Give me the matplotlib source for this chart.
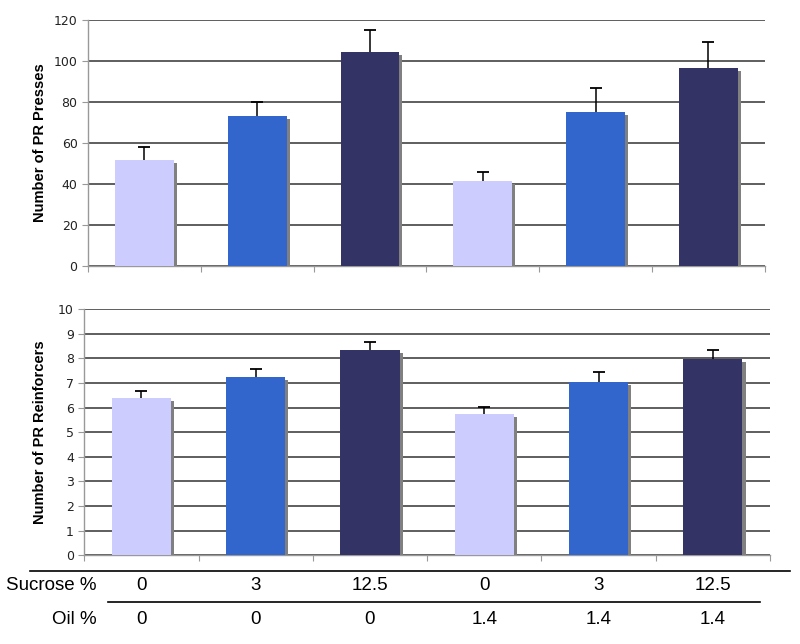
import matplotlib.pyplot as plt
import matplotlib.patheffects as pe
import matplotlib.transforms as mtransforms
import numpy as np

# data
sucrose = ['0', '3', '12.5', '0', '3', '12.5']
oil = ['0', '0', '0', '1.4', '1.4', '1.4']
presses = [51.5, 73.2, 104.3, 41.2, 75.0, 96.5]
presses_err = [6.5, 7.0, 10.8, 4.7, 12.0, 12.6]
reinf = [6.37, 7.24, 8.34, 5.72, 7.04, 7.97]
reinf_err = [0.30, 0.34, 0.32, 0.31, 0.39, 0.38]
colors = ['#ccccff', '#3366cc', '#333366', '#ccccff', '#3366cc', '#333366']

x = np.arange(1, len(sucrose) + 1)

fig = plt.figure(figsize=(8, 6.44), dpi=100)
ax1 = fig.add_axes([0.110, 0.5874, 0.846, 0.3815])
ax2 = fig.add_axes([0.1054, 0.1377, 0.857, 0.3825])

shadow = [pe.SimplePatchShadow(offset=(2.2, -2.2), shadow_rgbFace='#808080', alpha=1.0), pe.Normal()]


def draw(ax, vals, errs, ymax, step, ylabel):
    vals = np.array(vals)
    errs = np.array(errs)
    bars = ax.bar(x, vals, width=0.52, color=colors, zorder=3)
    for b in bars:
        b.set_path_effects(shadow)
    # upper error bars only
    ax.vlines(x, vals, vals + errs, color='black', linewidth=1.1, zorder=4)
    ax.plot(x, vals + errs, ls='none', marker='_', ms=9, mew=1.3, color='black', zorder=4)
    ax.set_xlim(0.5, len(x) + 0.5)
    ax.set_ylim(0, ymax)
    ax.set_yticks(np.arange(0, ymax + step / 2, step))
    ax.yaxis.grid(True, color='#333333', linewidth=1.1)
    ax.set_axisbelow(True)
    ax.set_xticks(np.arange(0.5, len(x) + 1, 1.0))
    ax.set_xticklabels([])
    for s in ['top', 'right']:
        ax.spines[s].set_visible(False)
    for s in ['left', 'bottom']:
        ax.spines[s].set_color('#999999')
        ax.spines[s].set_linewidth(1.0)
    ax.tick_params(axis='both', colors='#999999', length=4, width=0.8,
                   labelcolor='#222222', labelsize=9)
    ax.set_ylabel(ylabel, fontsize=10.5, fontweight='bold', family='Liberation Sans')


draw(ax1, presses, presses_err, 120, 20, 'Number of PR Presses')
draw(ax2, reinf, reinf_err, 10, 1, 'Number of PR Reinforcers')
ax1.yaxis.set_label_coords(-0.0606, 0.5)
ax2.yaxis.set_label_coords(-0.0544, 0.5)

# condition table under the bottom panel
tf = ['Liberation Sans', 'DejaVu Sans']
trans = mtransforms.blended_transform_factory(ax2.transData, fig.transFigure)
fig.add_artist(plt.Line2D([30 / 800, 790 / 800], [1 - 571 / 644] * 2, color='black', lw=1.2))
fig.add_artist(plt.Line2D([108 / 800, 760 / 800], [1 - 602 / 644] * 2, color='black', lw=1.2))
fig.text(97 / 800, 1 - 586 / 644, 'Sucrose %', ha='right', va='center', fontsize=13.5, family=tf)
fig.text(97 / 800, 1 - 620 / 644, 'Oil %', ha='right', va='center', fontsize=13.5, family=tf)
for i in range(len(x)):
    fig.text(x[i], 1 - 586 / 644, sucrose[i], transform=trans, ha='center', va='center',
             fontsize=13.5, family=tf)
    fig.text(x[i], 1 - 620 / 644, oil[i], transform=trans, ha='center', va='center',
             fontsize=13.5, family=tf)

fig.savefig('out.png', dpi=100)
